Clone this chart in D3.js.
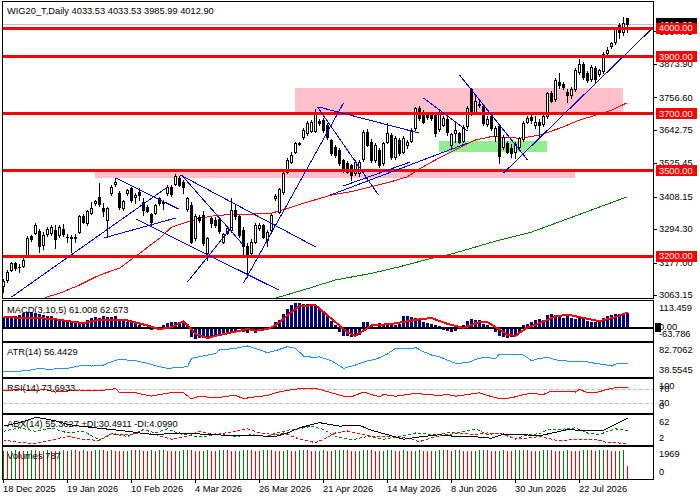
<!DOCTYPE html>
<html>
<head>
<meta charset="utf-8">
<script src="https://cdn.jsdelivr.net/npm/d3@7"></script>
<style>
  body { margin: 0; background: #fff; }
  svg { display: block; shape-rendering: crispEdges; }
  text { font-family: "Liberation Sans", Arial, sans-serif; font-size: 9.3px; fill: #000; }
</style>
</head>
<body>
<svg id="chart" width="700" height="500"></svg>
<script>
// ---------- data ----------
const symbolTitle = "WIG20_T,Daily  4033.53 4033.53 3985.99 4012.90";
const bidPrice = 4012.90;

const dateLabels = ["18 Dec 2025", "19 Jan 2026", "10 Feb 2026", "4 Mar 2026", "26 Mar 2026",
                    "21 Apr 2026", "14 May 2026", "8 Jun 2026", "30 Jun 2026", "22 Jul 2026"];
const dateLabelBars = [0, 16, 32, 48, 64, 80, 96, 112, 128, 144];

const openP = [
  3095,3116,3151,3176,3163,3165,3205,3270,3280,3289,
  3240,3277,3280,3291,3274,3296,3268,3262,3268,3285,
  3340,3315,3350,3385,3408,3369,3326,3420,3452,3422,
  3367,3420,3437,3406,3426,3391,3373,3347,3352,3402,
  3391,3420,3443,3453,3475,3461,3364,3379,3262,3338,
  3345,3209,3332,3326,3329,3250,3282,3290,3362,3340,
  3290,3235,3210,3250,3297,3309,3256,3290,3405,3355,
  3425,3495,3531,3566,3598,3619,3630,3640,3640,3672,
  3677,3660,3607,3583,3572,3537,3527,3519,3490,3490,
  3540,3636,3600,3537,3572,3525,3601,3625,3548,3607,
  3566,3589,3605,3648,3718,3700,3696,3700,3695,3645,
  3660,3680,3590,3632,3630,3605,3655,3785,3705,3735,
  3728,3662,3691,3620,3656,3583,3595,3580,3565,3583,
  3610,3671,3689,3660,3671,3662,3690,3771,3750,3812,
  3804,3775,3765,3786,3845,3872,3841,3820,3860,3840,
  3848,3911,3938,3950,4010,3987,4033.53];
const highP = [
  3120,3152,3180,3180,3171,3203,3270,3275,3315,3295,
  3285,3300,3308,3309,3308,3314,3276,3272,3278,3344,
  3346,3362,3390,3398,3455,3385,3372,3448,3473,3428,
  3398,3436,3442,3420,3437,3405,3380,3352,3384,3408,
  3397,3448,3450,3487,3482,3468,3408,3390,3348,3345,
  3358,3268,3338,3338,3333,3282,3305,3405,3380,3345,
  3300,3245,3258,3316,3315,3314,3290,3350,3416,3440,
  3496,3545,3565,3600,3601,3650,3672,3676,3715,3680,
  3685,3668,3612,3590,3578,3542,3533,3524,3537,3536,
  3642,3645,3610,3595,3578,3600,3666,3632,3620,3615,
  3620,3608,3650,3722,3725,3714,3702,3706,3705,3714,
  3690,3688,3632,3666,3636,3660,3725,3790,3760,3750,
  3732,3690,3696,3655,3660,3625,3602,3592,3600,3618,
  3675,3690,3695,3690,3680,3697,3776,3780,3825,3841,
  3810,3785,3792,3860,3890,3880,3848,3870,3866,3856,
  3915,3935,3952,4000,4018,4040,4033.53];
const lowP = [
  3072,3110,3148,3152,3145,3160,3198,3252,3276,3215,
  3225,3270,3275,3228,3268,3270,3250,3215,3250,3280,
  3315,3310,3347,3380,3376,3342,3268,3415,3445,3365,
  3362,3414,3390,3385,3396,3345,3355,3309,3348,3380,
  3366,3415,3412,3448,3444,3420,3358,3245,3255,3318,
  3238,3186,3300,3301,3282,3244,3278,3283,3330,3268,
  3198,3127,3200,3245,3290,3262,3235,3285,3398,3350,
  3418,3490,3525,3560,3588,3612,3625,3634,3635,3660,
  3636,3612,3555,3548,3520,3494,3490,3467,3485,3480,
  3535,3585,3530,3530,3512,3520,3595,3542,3540,3555,
  3560,3580,3600,3642,3678,3665,3680,3678,3622,3640,
  3655,3625,3578,3601,3595,3600,3650,3695,3700,3722,
  3660,3655,3642,3605,3527,3575,3560,3548,3545,3575,
  3605,3665,3665,3650,3613,3655,3685,3740,3745,3790,
  3785,3741,3755,3780,3838,3822,3812,3815,3812,3830,
  3842,3905,3930,3945,3965,3975,3985.99];
const closeP = [
  3112,3145,3174,3157,3160,3186,3262,3258,3309,3235,
  3274,3293,3302,3258,3302,3277,3265,3268,3262,3340,
  3320,3359,3367,3393,3381,3358,3367,3443,3461,3371,
  3393,3431,3396,3414,3414,3361,3359,3320,3379,3385,
  3385,3443,3417,3481,3449,3441,3402,3250,3340,3328,
  3245,3262,3315,3309,3289,3276,3297,3360,3340,3275,
  3235,3205,3250,3310,3309,3268,3285,3344,3410,3435,
  3490,3537,3554,3595,3594,3642,3668,3671,3700,3667,
  3642,3619,3560,3554,3527,3500,3496,3484,3531,3530,
  3636,3590,3537,3589,3519,3595,3630,3548,3613,3560,
  3613,3601,3642,3718,3683,3671,3689,3684,3630,3705,
  3683,3636,3628,3642,3601,3654,3718,3701,3745,3730,
  3666,3681,3648,3648,3552,3619,3566,3560,3592,3613,
  3668,3683,3677,3671,3660,3691,3771,3745,3818,3800,
  3794,3765,3785,3853,3874,3829,3818,3864,3820,3852,
  3908,3923,3946,3995,3985,4019,4012.90];

// moving averages: [bar, price]
const maRed = [[9,3040],[11,3057],[14,3069],[19,3098],[24,3133],[29,3157],[34,3209],[39,3262],
  [42,3301],[46,3320],[49,3332],[52,3340],[57,3346],[62,3347],[67,3350],[71,3367],[75,3385],
  [82,3414],[87,3426],[92,3443],[97,3461],[101,3478],[104,3506],[108,3537],[110,3552],[114,3580],
  [118,3607],[122,3619],[126,3616],[129,3613],[134,3624],[139,3648],[144,3677],[149,3698],
  [152,3712],[156,3738]];
const maGreen = [[67,3048],[75,3081],[83,3116],[92,3139],[99,3162],[107,3192],[112,3207],
  [124,3256],[132,3284],[139,3320],[156,3408]];

// horizontal levels, price axis ticks
const levelPrices = [4000, 3900, 3700, 3500, 3200];
const priceTicks = [3063.15, 3177.00, 3294.30, 3408.15, 3525.45, 3642.75, 3756.60, 3873.90, 3987.75];

// zones: [fromBar, toBar, topPrice, bottomPrice]
const pinkZones = [[23, 143, 3504, 3472], [73, 155, 3788, 3700]];
const greenZones = [[109, 136, 3604, 3566]];

// trend lines: [bar1, price1, bar2, price2]
const trendLines = [
  [2, 3056, 41, 3442], [28, 3474, 43.75, 3365], [25, 3263, 43, 3333], [33, 3330, 68.75, 3081],
  [44.25, 3484, 78, 3232], [44.5, 3484, 59.75, 3242], [46, 3109, 57.25, 3305],
  [60, 3105, 85, 3737], [78.5, 3723, 93.75, 3414], [78.75, 3723, 103.75, 3632],
  [81.75, 3414, 116, 3596], [85, 3446, 101.75, 3530], [105, 3754, 116, 3639],
  [114, 3835, 131, 3537], [125, 3491, 161.75, 3993]];

// MACD(3,10,5)
const macdTitle = "MACD(3,10,5) 61.008 62.673";
const macdHist = [
  40,44,48,46,50,60,65,66,62,55,
  50,48,45,38,32,30,28,22,20,18,
  20,30,38,42,40,45,42,44,48,30,
  25,22,20,18,5,-8,-12,-15,-8,0,
  8,18,20,22,20,18,10,-45,-56,-52,
  -50,-55,-40,-36,-32,-35,-30,-25,-20,-10,
  -25,-30,-20,-28,-20,-12,-10,-5,20,30,
  55,80,95,103,105,100,98,100,95,80,
  65,45,25,5,-25,-40,-42,-45,-38,-35,
  20,22,5,-10,15,8,10,6,8,12,
  45,48,42,40,38,20,15,10,5,2,
  -15,-20,-22,-18,-12,5,25,35,30,28,
  10,5,-8,-25,-40,-48,-50,-45,-40,-30,
  5,10,20,30,35,30,50,55,52,50,
  40,45,38,35,40,38,25,22,20,25,
  40,45,50,55,58,62,61.008];
const macdSignal = [[0,42],[12,35],[20,15],[24,30],[31,27],[36,5],[39,-11],[42,-3],[45,24],
  [48,-33],[51,-51],[53,-41],[57,-26],[61,-11],[63,-18],[66,-11],[68,5],[71,50],[74,91],
  [78,95],[80,65],[83,20],[86,-26],[88,-41],[92,5],[97,12],[103,30],[107,38],[111,12],
  [115,-6],[119,20],[121,20],[126,-36],[128,-41],[131,-3],[134,15],[138,45],[141,53],
  [144,42],[149,24],[153,42],[156,62.673]];
const macdTicks = ["113.459", "0.00", "-63.786"];

// ATR(14)
const atrTitle = "ATR(14) 56.4429";
const atrLine = [[0,45.4],[6,46.7],[9,49.8],[11,48.5],[16,49.8],[20,54.1],[22,52.8],[25,54.1],
  [27,58.4],[29,61.4],[33,59.7],[36,56.3],[39,51.9],[41,49.8],[43,50.6],[46,51.9],[47,62.7],
  [49,64.9],[53,69.2],[54,73.6],[58,75.7],[61,78.8],[63,75.7],[66,70.1],[68,72.7],[71,77.9],
  [73,75.7],[75,65.8],[78,63.6],[79,64.9],[82,59.7],[85,49.8],[88,54.1],[91,59.7],[93,61.4],
  [96,68.4],[98,75.7],[102,74.9],[103,77],[105,71.4],[107,67.1],[109,64.9],[112,58.4],
  [113,56.3],[116,57.1],[118,61.4],[120,64.0],[123,62.7],[124,68.4],[128,68.4],[130,67.1],
  [132,59.7],[134,62.7],[136,64.0],[139,59.7],[141,59.3],[143,58.4],[145,59.3],[147,57.1],
  [151,54.1],[152,52.8],[153,55.4],[156,56.44]];
const atrTicks = ["82.7062", "38.5545"];

// RSI(14)
const rsiTitle = "RSI(14) 73.6933";
const rsiLine = [[0,64.7],[4,69.7],[8,64.7],[10,69.7],[13,61.6],[16,64.7],[19,67.7],[23,64.7],
  [27,69.7],[28,72.7],[29,59.6],[33,59.6],[37,49.5],[39,54.5],[43,61.6],[45,59.6],[47,41.4],
  [49,49.5],[53,44.5],[56,49.5],[58,51.5],[60,42.4],[63,47.5],[66,51.5],[68,59.6],[71,66.7],
  [74,71.7],[78,71.7],[79,69.7],[82,59.6],[85,49.5],[87,47.5],[90,61.6],[92,54.5],[94,47.5],
  [95,54.5],[98,49.5],[101,54.5],[103,57.6],[106,54.5],[109,51.5],[111,54.5],[113,49.5],
  [116,54.5],[119,59.6],[121,51.5],[124,42.4],[127,44.5],[130,54.5],[132,57.6],[135,54.5],
  [137,64.7],[139,64.7],[143,61.6],[144,69.7],[146,59.6],[148,59.6],[151,69.7],[153,74.7],
  [155,74.7],[156,73.69]];
const rsiLevels = [70, 30];
const rsiTicks = ["100", "70", "30", "0"];

// ADX(14)
const adxTitle = "ADX(14) 55.3627 +DI:30.4911 -DI:4.0990";
const adxLine = [[0,39.8],[4,46.7],[8,57],[10,55],[13,50.2],[16,43.3],[19,39.8],[23,36.4],
  [27,32.9],[31,29.5],[34,26],[38,22.6],[41,24.6],[44,26],[49,24],[53,22.6],[58,20.5],
  [63,20.5],[68,19.1],[71,26],[74,36.4],[79,46.7],[84,39.8],[89,41.2],[92,31.5],[96,22.6],
  [100,13.6],[105,19.1],[109,22.6],[113,19.1],[117,19.1],[122,15.6],[125,24],[130,22.6],
  [134,20.5],[138,27.4],[141,32.9],[144,31.5],[150,31.5],[152,39.8],[156,55.36]];
const plusDi = [[0,29.5],[4,36.4],[8,29.5],[12,36.4],[16,26],[20,29.5],[24,12.2],[27,24.6],
  [31,19.1],[35,32.9],[38,26],[41,34.3],[44,24.6],[48,19.1],[51,19.1],[53,24.6],[58,19.1],
  [62,22.6],[66,19.1],[68,26],[72,32.9],[74,34.3],[77,39.8],[80,32.9],[83,19.1],[87,12.2],
  [91,19.1],[95,13.6],[99,19.1],[103,26],[108,22.6],[111,26],[114,27.4],[118,34.3],[121,22.6],
  [124,26],[128,13.6],[131,22.6],[134,24.6],[136,32.9],[139,32.9],[143,36.4],[146,26],
  [149,22.6],[151,29.5],[153,34.3],[156,30.49]];
const minusDi = [[0,12.2],[4,6.7],[8,5.3],[12,12.2],[16,19.1],[20,13.6],[24,10.8],[27,24.6],
  [31,22.6],[35,26],[38,22.6],[42,13.6],[46,19.1],[49,29.5],[53,22.6],[58,29.5],[61,34.3],
  [64,26],[68,22.6],[70,26],[74,13.6],[78,6.7],[80,13.6],[83,26],[86,30],[88,26],[90,22.6],
  [93,19.1],[96,19.1],[101,15.6],[104,8.7],[108,19.1],[111,22.6],[114,26],[118,22.6],[121,26],
  [124,24.6],[128,15.6],[131,15.6],[134,19.1],[137,13.6],[139,10.1],[143,13.6],[148,13.6],
  [151,6.7],[153,6.7],[156,4.10]];
const adxTicks = ["62", "2"];

// Volumes
const volTitle = "Volumes 787";
const volumes = [
  1750,1745,1752,1758,1749,1744,1751,1755,1760,1752,1748,1755,1750,1746,1753,1757,1751,1759,1754,1749,
  1756,1752,1747,1754,1760,1755,1750,1757,1753,1748,1745,1752,1758,1754,1759,1751,1747,1755,1750,1756,
  1761,1753,1749,1744,1752,1757,1762,1755,1750,1746,1753,1758,1752,1747,1755,1759,1754,1750,1745,1753,
  1758,1763,1756,1751,1747,1754,1760,1755,1749,1745,1752,1758,1753,1748,1756,1761,1755,1750,1746,1752,
  1757,1751,1747,1754,1759,1763,1756,1750,1745,1752,1757,1761,1754,1749,1744,1751,1756,1760,1753,1748,
  1755,1750,1746,1753,1758,1752,1747,1743,1750,1756,1761,1754,1749,1755,1759,1753,1748,1744,1751,1757,
  1762,1755,1750,1746,1753,1758,1752,1747,1754,1759,1763,1756,1751,1746,1752,1757,1761,1755,1749,1745,
  1752,1758,1753,1748,1744,1755,1760,1754,1749,1756,1761,1755,1750,1745,1752,1758,787];
const volTicks = ["1969", "0"];

// ---------- layout ----------
const plotL = 3, plotR = 653;
const panels = {
  main: { top: 2,   bottom: 298 },
  macd: { top: 301, bottom: 341 },
  atr:  { top: 343, bottom: 377 },
  rsi:  { top: 379, bottom: 413 },
  adx:  { top: 415, bottom: 445 },
  vol:  { top: 447, bottom: 479 }
};

const n = closeP.length;
const x = d3.scaleLinear().domain([0, n - 1]).range([3, 3 + 4 * (n - 1)]);

const yMain = d3.scaleLinear().domain([3052.6, 4091.2]).range([panels.main.bottom, panels.main.top]);
const yMacd = d3.scaleLinear().domain([-63.786, 113.459]).range([panels.macd.bottom, panels.macd.top]);
const yAtr  = d3.scaleLinear().domain([38.5545, 82.7062]).range([panels.atr.bottom, panels.atr.top]);
const yRsi  = d3.scaleLinear().domain([0, 100]).range([panels.rsi.bottom, panels.rsi.top]);
const yAdx  = d3.scaleLinear().domain([2, 62]).range([panels.adx.bottom, panels.adx.top]);
const yVol  = d3.scaleLinear().domain([0, 1969]).range([panels.vol.bottom, panels.vol.top]);

const svg = d3.select("#chart");
svg.append("rect").attr("width", 700).attr("height", 500).attr("fill", "#fff");

// clip paths, one per panel
const defs = svg.append("defs");
Object.entries(panels).forEach(([k, p]) => {
  defs.append("clipPath").attr("id", "clip-" + k)
    .append("rect")
    .attr("x", plotL).attr("y", p.top)
    .attr("width", plotR - plotL).attr("height", p.bottom - p.top);
});
const layer = k => svg.append("g").attr("clip-path", `url(#clip-${k})`);

const pts = (scale) => d3.line().x(d => x(d[0]) + 0.5).y(d => scale(d[1]));

// ---------- main chart ----------
const main = layer("main");

// zones
main.selectAll("rect.pink").data(pinkZones).join("rect")
  .attr("x", d => x(d[0])).attr("width", d => x(d[1]) - x(d[0]))
  .attr("y", d => yMain(d[2])).attr("height", d => yMain(d[3]) - yMain(d[2]))
  .attr("fill", "#ffc0cb");
main.selectAll("rect.green").data(greenZones).join("rect")
  .attr("x", d => x(d[0])).attr("width", d => x(d[1]) - x(d[0]))
  .attr("y", d => yMain(d[2])).attr("height", d => yMain(d[3]) - yMain(d[2]))
  .attr("fill", "#90ee90");

// bid line
main.append("line")
  .attr("x1", plotL).attr("x2", plotR)
  .attr("y1", Math.round(yMain(bidPrice)) + 0.5).attr("y2", Math.round(yMain(bidPrice)) + 0.5)
  .attr("stroke", "#c0c0c0");

// moving averages
main.append("path").attr("d", pts(yMain)(maRed)).attr("fill", "none").attr("stroke", "#ff0000");
main.append("path").attr("d", pts(yMain)(maGreen)).attr("fill", "none").attr("stroke", "#008000");

// candles
const bars = closeP.map((c, i) => ({ i, o: openP[i], h: highP[i], l: lowP[i], c }));
const cg = main.selectAll("g.bar").data(bars).join("g");
cg.append("line")
  .attr("x1", d => x(d.i) + 0.5).attr("x2", d => x(d.i) + 0.5)
  .attr("y1", d => Math.round(yMain(d.h))).attr("y2", d => Math.round(yMain(d.l)) + 1)
  .attr("stroke", "#000");
cg.append("rect")
  .each(function (d) {
    const top = Math.round(yMain(Math.max(d.o, d.c)));
    const bot = Math.round(yMain(Math.min(d.o, d.c)));
    const r = d3.select(this);
    if (d.c >= d.o) {
      r.attr("x", x(d.i) - 0.5).attr("width", 2)
       .attr("y", top + 0.5).attr("height", Math.max(0, bot - top))
       .attr("fill", "#fff").attr("stroke", "#000");
    } else {
      r.attr("x", x(d.i) - 1).attr("width", 3)
       .attr("y", top).attr("height", Math.max(1, bot - top + 1))
       .attr("fill", "#000");
    }
  });

// horizontal levels
main.selectAll("line.level").data(levelPrices).join("line")
  .attr("x1", plotL).attr("x2", plotR)
  .attr("y1", d => Math.round(yMain(d)) + 0.5).attr("y2", d => Math.round(yMain(d)) + 0.5)
  .attr("stroke", "#ff0000").attr("stroke-width", 3);

// trend lines
main.selectAll("line.trend").data(trendLines).join("line")
  .attr("x1", d => x(d[0]) + 0.5).attr("y1", d => yMain(d[1]))
  .attr("x2", d => x(d[2]) + 0.5).attr("y2", d => yMain(d[3]))
  .attr("stroke", "#0000ff");

// ---------- MACD ----------
const macd = layer("macd");
macd.selectAll("rect").data(macdHist).join("rect")
  .attr("x", (d, i) => x(i) - 1).attr("width", 3)
  .attr("y", d => Math.round(yMacd(Math.max(d, 0))))
  .attr("height", d => Math.max(1, Math.abs(Math.round(yMacd(d)) - Math.round(yMacd(0)))))
  .attr("fill", "#000080");
macd.append("line").attr("x1", plotL).attr("x2", plotR)
  .attr("y1", Math.round(yMacd(0)) + 0.5).attr("y2", Math.round(yMacd(0)) + 0.5)
  .attr("stroke", "#000").attr("stroke-width", 2);
macd.append("path").attr("d", pts(yMacd)(macdSignal))
  .attr("fill", "none").attr("stroke", "#ff0000").attr("stroke-width", 2);

// ---------- ATR ----------
const atr = layer("atr");
atr.append("path").attr("d", pts(yAtr)(atrLine)).attr("fill", "none").attr("stroke", "#1e90ff");

// ---------- RSI ----------
const rsi = layer("rsi");
rsi.selectAll("line").data(rsiLevels).join("line")
  .attr("x1", plotL).attr("x2", plotR)
  .attr("y1", d => Math.round(yRsi(d)) + 0.5).attr("y2", d => Math.round(yRsi(d)) + 0.5)
  .attr("stroke", "#c0c0c0").attr("stroke-dasharray", "4,2");
rsi.append("path").attr("d", pts(yRsi)(rsiLine)).attr("fill", "none").attr("stroke", "#ff0000");

// ---------- ADX ----------
const adx = layer("adx");
adx.append("path").attr("d", pts(yAdx)(plusDi)).attr("fill", "none")
  .attr("stroke", "#008000").attr("stroke-dasharray", "3,2");
adx.append("path").attr("d", pts(yAdx)(minusDi)).attr("fill", "none")
  .attr("stroke", "#ff0000").attr("stroke-dasharray", "3,2");
adx.append("path").attr("d", pts(yAdx)(adxLine)).attr("fill", "none").attr("stroke", "#000");

// ---------- Volumes ----------
const vol = layer("vol");
vol.selectAll("line").data(volumes).join("line")
  .attr("x1", (d, i) => x(i) + 0.5).attr("x2", (d, i) => x(i) + 0.5)
  .attr("y1", panels.vol.bottom).attr("y2", d => Math.round(yVol(d)))
  .attr("stroke", (d, i) => (i === 0 || d > volumes[i - 1]) ? "#008000" : "#ff0000");

// ---------- frames ----------
Object.values(panels).forEach(p => {
  svg.append("rect")
    .attr("x", plotL - 0.5).attr("y", p.top - 0.5)
    .attr("width", plotR - plotL + 1).attr("height", p.bottom - p.top + 1)
    .attr("fill", "none").attr("stroke", "#000");
});

// ---------- texts ----------
svg.append("text").attr("x", 7).attr("y", 14).text(symbolTitle);
const titles = [[macdTitle, panels.macd], [atrTitle, panels.atr], [rsiTitle, panels.rsi],
                [adxTitle, panels.adx], [volTitle, panels.vol]];
titles.forEach(([t, p]) => svg.append("text").attr("x", 7).attr("y", p.top + 12).text(t));

// price axis
const axisX = plotR + 6;
svg.selectAll("line.ptick").data(priceTicks).join("line")
  .attr("x1", plotR).attr("x2", plotR + 4)
  .attr("y1", d => Math.round(yMain(d)) + 0.5).attr("y2", d => Math.round(yMain(d)) + 0.5)
  .attr("stroke", "#000");
svg.selectAll("text.ptick").data(priceTicks).join("text")
  .attr("x", axisX).attr("y", d => yMain(d)).attr("dy", "0.35em")
  .text(d => d.toFixed(2));

// bid label (mostly hidden behind the 4000 box)
svg.append("rect").attr("x", plotR + 3).attr("width", 41)
  .attr("y", Math.round(yMain(bidPrice)) - 6).attr("height", 11).attr("fill", "#000");
svg.append("text").attr("x", axisX).attr("y", yMain(bidPrice)).attr("dy", "0.35em")
  .style("fill", "#fff").text(bidPrice.toFixed(2));

const lv = svg.selectAll("g.lvl").data(levelPrices).join("g");
lv.append("rect").attr("x", plotR + 3).attr("width", 41)
  .attr("y", d => Math.round(yMain(d)) - 5).attr("height", 11).attr("fill", "#ff0000");
lv.append("text").attr("x", axisX).attr("y", d => yMain(d)).attr("dy", "0.35em")
  .style("fill", "#fff").text(d => d.toFixed(2));

// sub-window scales
function subLabels(ticks, scale, p) {
  ticks.forEach(t => {
    const v = parseFloat(t);
    const yy = Math.max(p.top + 7, Math.min(p.bottom - 7, scale(v)));
    svg.append("text").attr("x", axisX).attr("y", yy).attr("dy", "0.35em").text(t);
  });
}
svg.append("rect").attr("x", plotR + 2).attr("width", 6)
  .attr("y", Math.round(yMacd(0)) - 4).attr("height", 9).attr("fill", "#000");
subLabels(macdTicks, yMacd, panels.macd);
subLabels(atrTicks, yAtr, panels.atr);
subLabels(rsiTicks, yRsi, panels.rsi);
subLabels(adxTicks, yAdx, panels.adx);
subLabels(volTicks, yVol, panels.vol);

// time axis
svg.selectAll("line.ttick").data(dateLabelBars).join("line")
  .attr("x1", d => x(d) + 0.5).attr("x2", d => x(d) + 0.5)
  .attr("y1", panels.vol.bottom).attr("y2", panels.vol.bottom + 4)
  .attr("stroke", "#000");
svg.selectAll("text.ttick").data(dateLabels).join("text")
  .attr("x", (d, i) => x(dateLabelBars[i])).attr("y", 492)
  .text(d => d);
</script>
</body>
</html>
